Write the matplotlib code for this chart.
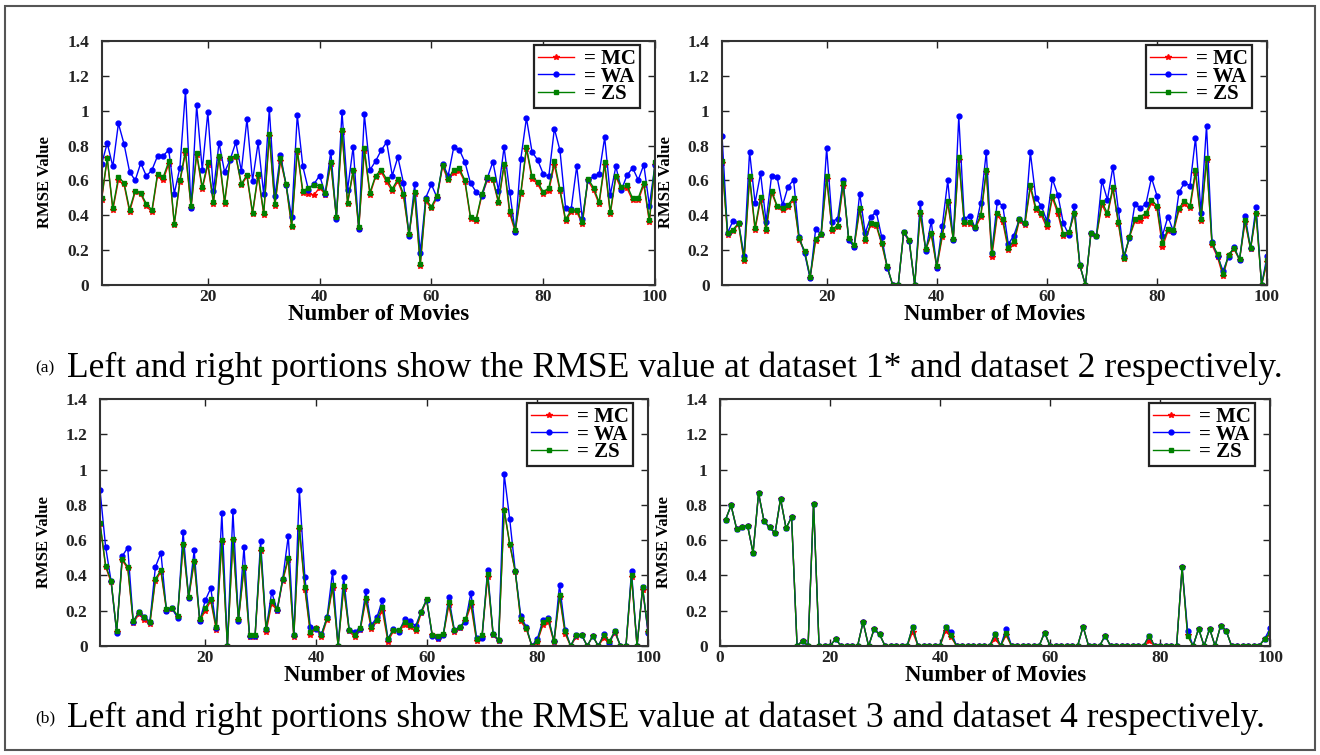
import matplotlib
matplotlib.use('Agg')
import matplotlib.pyplot as plt
from matplotlib.patches import Rectangle

# Valori RMSE (film 1..100)
tl_mc = [0.49, 0.726, 0.431, 0.60, 0.577, 0.421, 0.533, 0.521, 0.454, 0.418,
         0.628, 0.603, 0.694, 0.345, 0.592, 0.759, 0.444, 0.747, 0.55, 0.69,
         0.467, 0.73, 0.467, 0.722, 0.737, 0.573, 0.623, 0.406, 0.628, 0.404,
         0.853, 0.454, 0.713, 0.573, 0.331, 0.764, 0.527, 0.521, 0.517, 0.559,
         0.519, 0.695, 0.385, 0.877, 0.464, 0.653, 0.322, 0.768, 0.519, 0.619,
         0.65, 0.59, 0.54, 0.595, 0.51, 0.285, 0.52, 0.11, 0.48, 0.44,
         0.50, 0.68, 0.60, 0.645, 0.655, 0.59, 0.38, 0.37, 0.51, 0.60,
         0.60, 0.47, 0.685, 0.41, 0.305, 0.52, 0.78, 0.61, 0.58, 0.52,
         0.54, 0.69, 0.54, 0.365, 0.42, 0.42, 0.35, 0.60, 0.545, 0.465,
         0.69, 0.405, 0.62, 0.55, 0.555, 0.485, 0.485, 0.575, 0.36, 0.69]
tl_wa = [0.695, 0.814, 0.68, 0.927, 0.81, 0.65, 0.60, 0.70, 0.625, 0.66,
         0.74, 0.74, 0.776, 0.525, 0.674, 1.115, 0.443, 1.03, 0.66, 0.99,
         0.538, 0.816, 0.648, 0.72, 0.818, 0.655, 0.952, 0.598, 0.818, 0.52,
         1.008, 0.508, 0.747, 0.573, 0.389, 0.975, 0.68, 0.546, 0.58, 0.628,
         0.523, 0.766, 0.381, 0.994, 0.546, 0.793, 0.322, 0.979, 0.66, 0.71,
         0.772, 0.82, 0.628, 0.734, 0.586, 0.282, 0.577, 0.186, 0.502, 0.577,
         0.502, 0.697, 0.628, 0.791, 0.776, 0.705, 0.584, 0.534, 0.508, 0.613,
         0.707, 0.542, 0.791, 0.536, 0.303, 0.724, 0.958, 0.764, 0.718, 0.638,
         0.623, 0.897, 0.772, 0.444, 0.435, 0.682, 0.379, 0.60, 0.623, 0.636,
         0.847, 0.517, 0.68, 0.546, 0.63, 0.672, 0.603, 0.69, 0.456, 0.69]
tl_zs = [0.50, 0.73, 0.44, 0.617, 0.588, 0.433, 0.542, 0.527, 0.466, 0.43,
         0.638, 0.617, 0.709, 0.352, 0.60, 0.772, 0.452, 0.76, 0.561, 0.703,
         0.477, 0.743, 0.477, 0.728, 0.743, 0.58, 0.632, 0.416, 0.638, 0.414,
         0.868, 0.464, 0.726, 0.58, 0.341, 0.776, 0.538, 0.559, 0.575, 0.567,
         0.529, 0.707, 0.391, 0.889, 0.473, 0.659, 0.333, 0.784, 0.53, 0.626,
         0.661, 0.607, 0.552, 0.607, 0.523, 0.293, 0.533, 0.119, 0.492, 0.45,
         0.513, 0.69, 0.609, 0.661, 0.669, 0.60, 0.389, 0.377, 0.521, 0.617,
         0.609, 0.479, 0.695, 0.427, 0.316, 0.533, 0.791, 0.623, 0.592, 0.534,
         0.557, 0.709, 0.55, 0.377, 0.429, 0.429, 0.362, 0.611, 0.559, 0.475,
         0.705, 0.418, 0.628, 0.565, 0.571, 0.498, 0.498, 0.588, 0.374, 0.703]

tr_mc = [0.70, 0.285, 0.31, 0.35, 0.135, 0.61, 0.315, 0.49, 0.31, 0.53,
         0.45, 0.43, 0.45, 0.49, 0.26, 0.19, 0.04, 0.255, 0.285, 0.61,
         0.31, 0.33, 0.57, 0.26, 0.22, 0.43, 0.25, 0.345, 0.34, 0.235,
         0.10, 0, 0, 0.30, 0.25, 0, 0.405, 0.20, 0.29, 0.10,
         0.275, 0.47, 0.26, 0.72, 0.35, 0.35, 0.325, 0.39, 0.65, 0.16,
         0.40, 0.36, 0.20, 0.235, 0.37, 0.345, 0.56, 0.43, 0.40, 0.33,
         0.50, 0.41, 0.28, 0.30, 0.41, 0.11, 0, 0.29, 0.28, 0.46,
         0.40, 0.55, 0.35, 0.15, 0.275, 0.365, 0.37, 0.395, 0.47, 0.44,
         0.22, 0.31, 0.305, 0.43, 0.465, 0.44, 0.64, 0.365, 0.72, 0.23,
         0.16, 0.05, 0.17, 0.205, 0.145, 0.36, 0.205, 0.41, 0, 0.13]
tr_wa = [0.853, 0.30, 0.368, 0.358, 0.169, 0.766, 0.471, 0.64, 0.364, 0.628,
         0.619, 0.458, 0.565, 0.603, 0.276, 0.182, 0.038, 0.32, 0.293, 0.785,
         0.364, 0.381, 0.603, 0.259, 0.218, 0.525, 0.299, 0.389, 0.421, 0.276,
         0.10, 0, 0, 0.305, 0.251, 0, 0.469, 0.193, 0.366, 0.10,
         0.339, 0.60, 0.259, 0.967, 0.381, 0.397, 0.326, 0.473, 0.764, 0.186,
         0.479, 0.454, 0.234, 0.284, 0.377, 0.354, 0.761, 0.498, 0.454, 0.368,
         0.609, 0.517, 0.354, 0.287, 0.456, 0.113, 0, 0.299, 0.284, 0.598,
         0.489, 0.678, 0.429, 0.167, 0.268, 0.466, 0.441, 0.466, 0.615, 0.513,
         0.284, 0.393, 0.307, 0.531, 0.588, 0.569, 0.843, 0.416, 0.914, 0.245,
         0.167, 0.082, 0.163, 0.22, 0.144, 0.397, 0.211, 0.45, 0, 0.167]
tr_zs = [0.709, 0.299, 0.318, 0.356, 0.148, 0.626, 0.328, 0.504, 0.322, 0.54,
         0.456, 0.441, 0.46, 0.502, 0.268, 0.195, 0.048, 0.264, 0.293, 0.623,
         0.32, 0.341, 0.586, 0.268, 0.23, 0.441, 0.262, 0.354, 0.349, 0.243,
         0.109, 0, 0, 0.307, 0.259, 0, 0.421, 0.207, 0.297, 0.111,
         0.289, 0.483, 0.266, 0.734, 0.36, 0.36, 0.331, 0.402, 0.661, 0.186,
         0.416, 0.377, 0.215, 0.253, 0.377, 0.354, 0.573, 0.444, 0.416, 0.349,
         0.511, 0.429, 0.293, 0.303, 0.416, 0.113, 0, 0.297, 0.284, 0.477,
         0.412, 0.561, 0.362, 0.157, 0.278, 0.379, 0.393, 0.412, 0.485, 0.456,
         0.239, 0.324, 0.316, 0.441, 0.483, 0.456, 0.659, 0.377, 0.728, 0.239,
         0.178, 0.061, 0.174, 0.211, 0.148, 0.374, 0.211, 0.416, 0, 0.144]

bl_mc = [0.69, 0.45, 0.36, 0.08, 0.485, 0.44, 0.13, 0.18, 0.15, 0.125,
         0.37, 0.42, 0.20, 0.21, 0.165, 0.57, 0.27, 0.475, 0.14, 0.20,
         0.255, 0.09, 0.59, 0, 0.60, 0.145, 0.44, 0.05, 0.05, 0.54,
         0.08, 0.24, 0.20, 0.37, 0.49, 0.05, 0.665, 0.32, 0.065, 0.10,
         0.05, 0.15, 0.33, 0, 0.325, 0.085, 0.05, 0.09, 0.26, 0.095,
         0.14, 0.20, 0.025, 0.085, 0.085, 0.12, 0.11, 0.085, 0.185, 0.26,
         0.06, 0.04, 0.06, 0.23, 0.08, 0.10, 0.14, 0.23, 0.03, 0.05,
         0.39, 0.06, 0.03, 0.77, 0.575, 0.42, 0.14, 0.095, 0, 0.025,
         0.12, 0.135, 0.02, 0.28, 0.07, 0, 0.05, 0.06, 0, 0.055,
         0, 0.045, 0.02, 0.075, 0, 0, 0.39, 0, 0.32, 0.08]
bl_wa = [0.882, 0.563, 0.366, 0.076, 0.509, 0.557, 0.137, 0.191, 0.166, 0.137,
         0.448, 0.528, 0.198, 0.214, 0.16, 0.647, 0.271, 0.542, 0.141, 0.258,
         0.328, 0.103, 0.754, 0, 0.763, 0.141, 0.561, 0.055, 0.055, 0.595,
         0.095, 0.305, 0.202, 0.381, 0.624, 0.061, 0.882, 0.389, 0.105, 0.095,
         0.069, 0.162, 0.42, 0, 0.391, 0.09, 0.08, 0.099, 0.309, 0.118,
         0.162, 0.26, 0.042, 0.095, 0.08, 0.151, 0.141, 0.113, 0.195, 0.261,
         0.057, 0.048, 0.061, 0.275, 0.09, 0.105, 0.137, 0.301, 0.048, 0.048,
         0.429, 0.067, 0.032, 0.973, 0.719, 0.424, 0.17, 0.107, 0, 0.042,
         0.147, 0.156, 0.027, 0.347, 0.093, 0, 0.061, 0.061, 0, 0.057,
         0, 0.067, 0.019, 0.084, 0, 0, 0.424, 0, 0.332, 0.071]
bl_zs = [0.697, 0.456, 0.37, 0.084, 0.494, 0.448, 0.141, 0.191, 0.162, 0.134,
         0.38, 0.431, 0.21, 0.217, 0.172, 0.58, 0.28, 0.484, 0.151, 0.214,
         0.267, 0.105, 0.601, 0, 0.608, 0.151, 0.45, 0.061, 0.061, 0.549,
         0.099, 0.256, 0.21, 0.38, 0.50, 0.061, 0.675, 0.334, 0.08, 0.103,
         0.065, 0.16, 0.343, 0, 0.338, 0.093, 0.065, 0.103, 0.271, 0.109,
         0.15, 0.223, 0.038, 0.093, 0.088, 0.137, 0.118, 0.099, 0.195, 0.265,
         0.065, 0.055, 0.067, 0.248, 0.088, 0.105, 0.151, 0.248, 0.042, 0.061,
         0.408, 0.067, 0.036, 0.772, 0.58, 0.424, 0.151, 0.103, 0, 0.029,
         0.134, 0.151, 0.027, 0.29, 0.084, 0, 0.065, 0.065, 0, 0.057,
         0, 0.061, 0.027, 0.086, 0, 0, 0.404, 0, 0.332, 0.086]

br_mc = [0.716, 0.797, 0.665, 0.674, 0.682, 0.528, 0.866, 0.706, 0.672, 0.64,
         0.835, 0.667, 0.731, 0, 0.03, 0, 0.807, 0, 0, 0,
         0.04, 0, 0, 0, 0, 0.136, 0, 0.095, 0.066, 0,
         0, 0, 0, 0, 0.08, 0, 0, 0, 0, 0,
         0.085, 0.05, 0, 0, 0, 0, 0, 0, 0, 0.04,
         0, 0.06, 0, 0, 0, 0, 0, 0, 0.076, 0,
         0, 0, 0, 0, 0, 0.11, 0, 0, 0, 0.059,
         0, 0, 0, 0, 0, 0, 0, 0.03, 0, 0,
         0, 0, 0, 0.445, 0.06, 0, 0.098, 0, 0.098, 0,
         0.114, 0.087, 0, 0, 0, 0, 0, 0, 0.04, 0.07]
br_wa = [0.716, 0.797, 0.665, 0.674, 0.682, 0.528, 0.866, 0.706, 0.672, 0.64,
         0.835, 0.667, 0.731, 0, 0.03, 0, 0.807, 0, 0, 0,
         0.04, 0, 0, 0, 0, 0.136, 0, 0.095, 0.066, 0,
         0, 0, 0, 0, 0.108, 0, 0, 0, 0, 0,
         0.108, 0.081, 0, 0, 0, 0, 0, 0, 0, 0.068,
         0, 0.097, 0, 0, 0, 0, 0, 0, 0.076, 0,
         0, 0, 0, 0, 0, 0.11, 0, 0, 0, 0.059,
         0, 0, 0, 0, 0, 0, 0, 0.059, 0, 0,
         0, 0, 0, 0.445, 0.087, 0, 0.098, 0, 0.098, 0,
         0.114, 0.087, 0, 0, 0, 0, 0, 0, 0.04, 0.10]
br_zs = [0.716, 0.797, 0.665, 0.674, 0.682, 0.528, 0.866, 0.706, 0.672, 0.64,
         0.835, 0.667, 0.731, 0, 0.03, 0, 0.807, 0, 0, 0,
         0.04, 0, 0, 0, 0, 0.136, 0, 0.095, 0.066, 0,
         0, 0, 0, 0, 0.108, 0, 0, 0, 0, 0,
         0.108, 0.06, 0, 0, 0, 0, 0, 0, 0, 0.068,
         0, 0.072, 0, 0, 0, 0, 0, 0, 0.076, 0,
         0, 0, 0, 0, 0, 0.11, 0, 0, 0, 0.059,
         0, 0, 0, 0, 0, 0, 0, 0.059, 0, 0,
         0, 0, 0, 0.445, 0.059, 0, 0.098, 0, 0.098, 0,
         0.114, 0.087, 0, 0, 0, 0, 0, 0, 0.04, 0.072]

movies = list(range(1, 101))
y_ticks = [0, 0.2, 0.4, 0.6, 0.8, 1.0, 1.2, 1.4]
y_labels = ['0', '0.2', '0.4', '0.6', '0.8', '1', '1.2', '1.4']
captions = [('(a)', 'Left and right portions show the RMSE value at dataset 1* and dataset 2 respectively.'),
            ('(b)', 'Left and right portions show the RMSE value at dataset 3 and dataset 4 respectively.')]

SERIF = 'Liberation Serif'
bold = {'family': SERIF, 'weight': 'bold'}


def draw_panel(ax, mc, wa, zs, x_min, x_ticks):
    ax.plot(movies, mc, color='red', marker='*', markersize=4, linewidth=1, label='= MC')
    ax.plot(movies, wa, color='blue', marker='o', markersize=3.5, linewidth=1, label='= WA')
    ax.plot(movies, zs, color='green', marker='s', markersize=3.2, linewidth=1, label='= ZS')
    ax.set_xlim(x_min, 100)
    ax.set_ylim(0, 1.4)
    ax.set_xticks(x_ticks)
    ax.set_xticklabels([str(t) for t in x_ticks], fontdict=bold, fontsize=12.5)
    ax.set_yticks(y_ticks)
    ax.set_yticklabels(y_labels, fontdict=bold, fontsize=12.5)
    ax.tick_params(direction='in', top=True, right=True, length=5, width=1, colors='#222222')
    ax.tick_params(axis='y', pad=9)
    ax.tick_params(axis='x', pad=3)
    for s in ax.spines.values():
        s.set_linewidth(1.5)
        s.set_color('#333333')
    ax.set_xlabel('Number of Movies', fontdict=bold, fontsize=16.5, labelpad=-1)
    ax.set_ylabel('RMSE Value', fontdict=bold, fontsize=12)
    ax.yaxis.set_label_coords(-0.088, 0.42)
    leg = ax.legend(loc='upper right', bbox_to_anchor=(0.973, 0.984), borderaxespad=0,
                    prop={'family': SERIF, 'weight': 'bold', 'size': 15},
                    handlelength=1.7, handletextpad=0.5, labelspacing=-0.12,
                    borderpad=0.2, fancybox=False, framealpha=1)
    leg.get_frame().set_edgecolor('#222222')
    leg.get_frame().set_linewidth(1.6)


fig = plt.figure(figsize=(13.2, 7.55), dpi=100)
fig.patches.append(Rectangle((0.004, 0.007), 0.992, 0.985, transform=fig.transFigure,
                             fill=False, edgecolor='#555555', linewidth=1.5))

ax_tl = fig.add_axes([0.0770, 0.6225, 0.4192, 0.3232])
ax_tr = fig.add_axes([0.5470, 0.6225, 0.4129, 0.3232])
ax_bl = fig.add_axes([0.0758, 0.1444, 0.4152, 0.3272])
ax_br = fig.add_axes([0.5455, 0.1444, 0.4167, 0.3272])

draw_panel(ax_tl, tl_mc, tl_wa, tl_zs, 1, [20, 40, 60, 80, 100])
draw_panel(ax_tr, tr_mc, tr_wa, tr_zs, 1, [20, 40, 60, 80, 100])
draw_panel(ax_bl, bl_mc, bl_wa, bl_zs, 1, [20, 40, 60, 80, 100])
draw_panel(ax_br, br_mc, br_wa, br_zs, 0, [0, 20, 40, 60, 80, 100])

# didascalie sotto ogni riga di grafici
for (tag, text), y in zip(captions, [1 - 368 / 755, 1 - 718 / 755]):
    fig.text(0.027, y, tag, fontsize=12.5, family=SERIF, va='center')
    fig.text(0.051, y, text, fontsize=25.6, family=SERIF, va='center')

fig.savefig('out.png', dpi=100)
